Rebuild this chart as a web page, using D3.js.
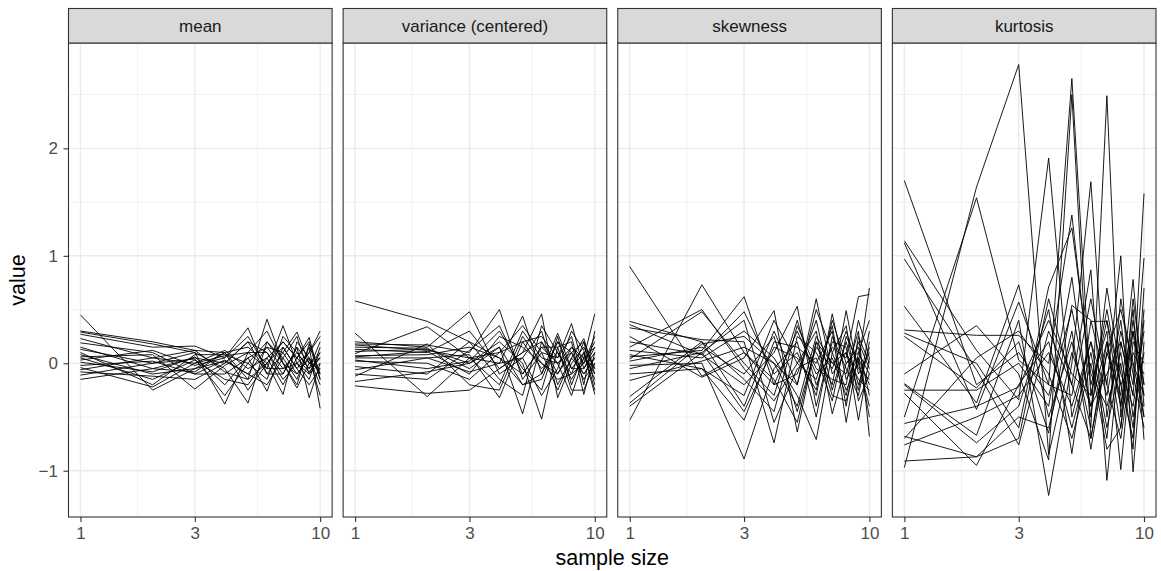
<!DOCTYPE html>
<html>
<head>
<meta charset="utf-8">
<script src="https://cdn.jsdelivr.net/npm/d3@7"></script>
<style>
  html, body { margin: 0; padding: 0; background: #fff; }
  svg text { font-family: "Liberation Sans", Arial, Helvetica, sans-serif; }
</style>
</head>
<body>
<svg id="chart" width="1161" height="571"></svg>
<script>
// ---- data ----
const sampleSizes = [1, 2, 3, 4, 5, 6, 7, 8, 9, 10];
const facetNames = ["mean", "variance (centered)", "skewness", "kurtosis"];
const xTickValues = [1, 3, 10];
const yTickValues = [-1, 0, 1, 2];

const meanSeries = [
  [0.45, -0.25, -0.05, 0.02, -0.10, 0.15, -0.05, 0.10, -0.05, 0.05],
  [0.30, 0.20, 0.12, 0.10, -0.15, 0.41, 0.00, -0.10, 0.05, -0.10],
  [0.29, 0.18, 0.10, -0.38, 0.10, -0.05, 0.35, 0.00, -0.10, 0.10],
  [0.27, 0.15, 0.16, 0.05, 0.33, -0.10, 0.10, 0.29, 0.00, -0.05],
  [0.23, 0.05, 0.00, 0.12, -0.05, 0.05, -0.20, 0.05, 0.24, -0.15],
  [0.19, 0.10, -0.10, -0.10, 0.05, -0.26, 0.15, -0.05, 0.10, 0.30],
  [0.15, -0.05, 0.05, 0.00, 0.20, 0.10, -0.10, 0.15, -0.32, 0.00],
  [0.13, 0.00, 0.10, -0.05, -0.37, 0.20, 0.05, -0.15, 0.15, -0.42],
  [0.10, -0.20, 0.08, 0.08, 0.00, -0.15, 0.25, 0.10, -0.05, 0.20],
  [0.08, -0.10, -0.05, 0.10, 0.15, 0.00, -0.29, 0.20, 0.05, -0.20],
  [0.06, 0.08, -0.24, -0.02, 0.10, 0.30, 0.00, -0.23, 0.00, 0.05],
  [0.05, -0.15, 0.03, -0.15, -0.20, 0.05, 0.20, 0.05, 0.20, -0.10],
  [0.03, 0.12, -0.02, 0.05, 0.25, -0.05, -0.05, 0.00, -0.15, 0.15],
  [0.01, -0.08, 0.06, -0.20, 0.05, 0.15, 0.10, -0.10, 0.05, -0.30],
  [-0.02, 0.02, -0.10, 0.03, -0.10, -0.20, 0.05, 0.25, -0.10, 0.00],
  [-0.04, -0.22, 0.00, 0.07, 0.10, 0.10, -0.15, 0.00, 0.10, 0.25],
  [-0.06, 0.05, 0.12, -0.08, -0.15, 0.00, 0.15, -0.05, -0.20, -0.05],
  [-0.08, -0.12, -0.15, 0.00, 0.20, -0.10, -0.10, 0.15, 0.00, 0.10],
  [-0.11, 0.00, 0.04, -0.30, 0.00, 0.20, 0.00, -0.20, 0.18, -0.15],
  [-0.15, -0.05, -0.08, 0.10, -0.25, 0.00, 0.20, 0.05, -0.08, 0.05]
];

const varianceSeries = [
  [0.58, 0.39, 0.20, 0.05, -0.10, 0.15, 0.00, 0.10, -0.10, 0.05],
  [0.28, -0.31, 0.05, 0.10, 0.20, -0.05, 0.10, -0.15, 0.05, 0.46],
  [0.20, 0.15, 0.48, -0.10, 0.05, 0.30, -0.20, 0.05, 0.23, -0.10],
  [0.18, 0.17, 0.10, 0.50, -0.15, 0.10, 0.05, 0.37, -0.05, 0.10],
  [0.17, 0.12, 0.05, 0.00, 0.44, -0.10, 0.28, -0.05, 0.10, -0.29],
  [0.15, 0.14, -0.05, 0.15, -0.47, 0.20, -0.10, 0.15, 0.00, 0.20],
  [0.13, 0.10, 0.30, -0.05, 0.10, 0.46, -0.32, 0.00, 0.15, -0.05],
  [0.11, 0.13, 0.00, 0.20, 0.00, -0.52, 0.15, 0.20, -0.29, 0.10],
  [0.09, 0.34, 0.05, -0.20, 0.30, 0.05, 0.00, -0.30, 0.05, 0.15],
  [0.07, 0.08, 0.15, 0.05, -0.20, -0.15, 0.20, 0.10, -0.15, 0.00],
  [0.06, 0.11, -0.10, 0.25, 0.15, 0.00, -0.15, -0.10, 0.20, -0.20],
  [0.05, 0.05, 0.08, -0.32, 0.20, 0.25, 0.05, 0.25, -0.20, 0.30],
  [0.03, -0.05, 0.02, 0.30, -0.05, -0.25, 0.25, -0.20, 0.10, -0.15],
  [0.02, 0.00, -0.15, 0.10, 0.35, 0.10, -0.25, 0.05, -0.10, 0.05],
  [-0.03, -0.10, 0.20, -0.15, -0.30, 0.35, 0.10, -0.10, 0.00, 0.25],
  [-0.06, 0.05, -0.08, 0.00, 0.05, -0.30, -0.05, 0.30, 0.12, -0.25],
  [-0.10, -0.15, 0.12, 0.35, -0.10, 0.15, 0.15, -0.25, -0.25, 0.00],
  [-0.12, 0.18, -0.20, -0.25, 0.25, 0.00, -0.10, 0.10, 0.20, -0.05],
  [-0.17, -0.08, 0.00, 0.15, -0.20, -0.10, 0.20, -0.05, -0.05, 0.15],
  [-0.21, -0.28, -0.25, -0.05, 0.10, 0.20, 0.00, 0.15, 0.05, -0.10]
];

const skewnessSeries = [
  [0.90, -0.12, 0.10, -0.20, 0.30, -0.10, 0.05, -0.30, 0.20, -0.05],
  [0.39, 0.20, -0.40, 0.30, -0.20, 0.60, -0.10, 0.10, -0.25, 0.30],
  [0.36, 0.08, 0.48, -0.10, 0.10, -0.30, 0.46, -0.15, 0.05, -0.20],
  [0.33, 0.22, 0.20, -0.74, 0.25, 0.10, -0.20, 0.49, -0.10, 0.10],
  [0.25, -0.13, 0.05, 0.49, -0.64, 0.20, 0.00, -0.10, 0.30, -0.68],
  [0.20, 0.08, -0.20, 0.10, 0.53, -0.40, 0.20, 0.15, -0.53, 0.05],
  [0.15, 0.50, -0.05, -0.35, 0.00, 0.30, -0.47, 0.00, 0.15, -0.30],
  [0.12, 0.05, 0.30, 0.05, -0.30, -0.71, 0.10, -0.25, 0.00, 0.70],
  [0.08, -0.05, -0.53, 0.20, 0.15, 0.00, 0.30, -0.55, 0.10, -0.10],
  [0.06, 0.12, 0.62, -0.20, -0.10, 0.40, -0.25, 0.20, -0.20, 0.15],
  [0.04, 0.48, 0.00, -0.30, 0.40, -0.20, 0.15, 0.05, 0.62, 0.64],
  [0.02, 0.15, -0.10, 0.25, -0.45, 0.15, -0.05, 0.30, -0.05, -0.15],
  [-0.02, 0.00, -0.89, -0.05, 0.20, -0.50, 0.25, -0.05, -0.30, 0.20],
  [-0.05, 0.10, 0.40, -0.55, -0.05, 0.05, -0.35, 0.25, 0.00, -0.40],
  [-0.10, -0.05, -0.30, 0.40, 0.00, -0.15, 0.35, -0.40, 0.25, 0.00],
  [-0.16, 0.02, 0.15, 0.00, -0.40, 0.25, 0.00, 0.10, -0.15, -0.25],
  [-0.31, 0.20, -0.15, -0.45, 0.35, -0.05, -0.15, -0.20, 0.40, 0.05],
  [-0.37, 0.18, 0.25, 0.00, -0.20, 0.50, 0.10, 0.35, -0.35, -0.10],
  [-0.40, 0.10, -0.45, 0.15, 0.05, -0.25, 0.40, 0.00, 0.10, 0.40],
  [-0.53, 0.73, 0.10, -0.15, -0.55, 0.20, -0.30, -0.35, 0.05, -0.50]
];

const kurtosisSeries = [
  [1.70, -0.20, 0.10, -0.30, 0.50, -0.40, 0.20, -0.60, 0.30, -0.20],
  [1.14, 0.12, -0.34, 1.91, -0.50, 0.20, -0.30, 0.40, -0.50, 0.10],
  [1.12, -0.43, 0.57, -0.20, 2.65, -0.30, 0.50, -0.20, 0.00, -0.50],
  [0.97, -0.06, -0.76, 0.30, -0.20, 0.87, -1.09, 0.20, -0.30, 0.98],
  [0.53, -0.37, 0.73, -0.50, 0.20, -0.60, 2.49, -0.50, 0.40, -0.30],
  [0.31, 0.26, 0.26, 0.00, 1.38, -0.20, 0.30, -0.99, 0.20, 0.00],
  [0.28, 0.00, -0.60, 0.71, 1.26, -0.10, -0.40, 0.10, -0.60, 0.40],
  [0.25, -0.23, 0.20, -0.65, 0.54, 0.40, -0.20, 1.00, -1.01, 0.20],
  [-0.10, 0.35, -0.10, -0.90, 2.50, -0.70, 0.10, -0.30, 0.78, -0.40],
  [-0.19, -0.67, 0.40, -1.23, 0.00, 1.69, -0.50, 0.30, -0.20, 1.58],
  [-0.20, -0.74, -0.40, 0.50, -0.84, 0.39, 0.39, -0.40, 0.50, -0.71],
  [-0.25, -0.25, 0.00, -0.40, 0.80, -0.50, 0.70, -0.10, -0.40, 0.30],
  [-0.28, -0.95, -0.20, 0.20, -0.60, 0.10, -0.70, 0.60, -0.10, -0.60],
  [-0.50, 1.54, 0.03, -0.20, -0.30, 0.60, -0.20, -0.70, 0.10, -0.10],
  [-0.56, -0.40, -0.22, 0.40, -0.10, -0.30, 0.40, -0.20, -0.70, 0.50],
  [-0.68, -0.87, -0.50, -0.60, 0.30, -0.80, 0.10, 0.50, 0.00, -0.30],
  [-0.70, 0.05, 0.30, -0.10, -0.70, 0.00, -0.80, -0.60, 0.60, -0.20],
  [-0.76, -0.50, -0.30, 0.10, -0.40, 0.20, -0.60, 0.00, -0.80, 0.70],
  [-0.91, -0.87, -0.70, 0.60, -0.20, -0.70, 0.20, -0.40, 0.30, -0.50],
  [-0.97, 1.64, 2.78, -0.85, 0.10, -0.40, -0.10, 0.20, -0.30, -0.40]
];

const facetSeries = [meanSeries, varianceSeries, skewnessSeries, kurtosisSeries];

// ---- layout ----
const svg = d3.select("#chart");
const plotLeft = 68.5, plotRight = 1156, panelGap = 11;
const stripTop = 8.5, panelTop = 43, panelBottom = 517;
const nP = facetNames.length;
const pw = (plotRight - plotLeft - panelGap * (nP - 1)) / nP;
const ph = panelBottom - panelTop;
const smallFont = "17px", titleFont = "21.5px";
const fontFam = '"Liberation Sans", Arial, sans-serif';

// scales
const logMin = Math.log10(d3.min(sampleSizes)), logMax = Math.log10(d3.max(sampleSizes));
const lpad = (logMax - logMin) * 0.05;
const x = d3.scaleLog().domain([Math.pow(10, logMin - lpad), Math.pow(10, logMax + lpad)]).range([0, pw]);

const allVals = facetSeries.flat(2);
const [vmin, vmax] = d3.extent(allVals);
const vpad = (vmax - vmin) * 0.05;
const y = d3.scaleLinear().domain([vmin - vpad, vmax + vpad]).range([ph, 0]);

// minor breaks (midpoints between major breaks, as ggplot does)
const xMinor = [];
for (let i = 0; i < xTickValues.length - 1; i++) {
  xMinor.push(Math.pow(10, (Math.log10(xTickValues[i]) + Math.log10(xTickValues[i + 1])) / 2));
}
const yMinor = [];
for (let v = yTickValues[0] - 0.5; v <= yTickValues[yTickValues.length - 1] + 0.5; v += 1) {
  if (v >= y.domain()[0] && v <= y.domain()[1]) yMinor.push(v);
}

const line = d3.line().x((d, i) => x(sampleSizes[i])).y(d => y(d));

facetNames.forEach((name, p) => {
  const px = plotLeft + p * (pw + panelGap);
  const g = svg.append("g").attr("transform", `translate(${px},${panelTop})`);

  g.append("rect").attr("width", pw).attr("height", ph).attr("fill", "#fff");

  // minor grid
  g.selectAll(".ymin").data(yMinor).join("line")
    .attr("x1", 0).attr("x2", pw).attr("y1", d => y(d)).attr("y2", d => y(d))
    .attr("stroke", "#EBEBEB").attr("stroke-width", 0.7);
  g.selectAll(".xmin").data(xMinor).join("line")
    .attr("y1", 0).attr("y2", ph).attr("x1", d => x(d)).attr("x2", d => x(d))
    .attr("stroke", "#EBEBEB").attr("stroke-width", 0.7);
  // major grid
  g.selectAll(".ymaj").data(yTickValues).join("line")
    .attr("x1", 0).attr("x2", pw).attr("y1", d => y(d)).attr("y2", d => y(d))
    .attr("stroke", "#EBEBEB").attr("stroke-width", 1.4);
  g.selectAll(".xmaj").data(xTickValues).join("line")
    .attr("y1", 0).attr("y2", ph).attr("x1", d => x(d)).attr("x2", d => x(d))
    .attr("stroke", "#EBEBEB").attr("stroke-width", 1.4);

  // series lines
  g.selectAll(".series").data(facetSeries[p]).join("path")
    .attr("d", line)
    .attr("fill", "none").attr("stroke", "#000").attr("stroke-width", 0.9)
    .attr("stroke-linejoin", "miter").attr("stroke-miterlimit", 10);

  // panel border
  g.append("rect").attr("width", pw).attr("height", ph)
    .attr("fill", "none").attr("stroke", "#333333").attr("stroke-width", 1.1);

  // strip
  const s = svg.append("g").attr("transform", `translate(${px},${stripTop})`);
  s.append("rect").attr("width", pw).attr("height", panelTop - stripTop)
    .attr("fill", "#D9D9D9").attr("stroke", "#333333").attr("stroke-width", 1.1);
  s.append("text").attr("x", pw / 2).attr("y", (panelTop - stripTop) / 2)
    .attr("dy", "0.35em").attr("text-anchor", "middle")
    .attr("fill", "#1A1A1A").style("font-size", smallFont).text(name);

  // x axis
  const xa = svg.append("g").attr("transform", `translate(${px},${panelBottom})`)
    .call(d3.axisBottom(x).tickValues(xTickValues).tickFormat(d3.format("d")).tickSize(5).tickPadding(4.5));
  xa.select(".domain").remove();
  xa.selectAll(".tick line").attr("stroke", "#333333").attr("stroke-width", 1.1);
  xa.selectAll(".tick text").attr("fill", "#4D4D4D").style("font-size", smallFont).style("font-family", fontFam);

  if (p === 0) {
    const ya = svg.append("g").attr("transform", `translate(${px},${panelTop})`)
      .call(d3.axisLeft(y).tickValues(yTickValues)
        .tickFormat(d => d < 0 ? "\u2212" + Math.abs(d) : String(d)).tickSize(5).tickPadding(5.5));
    ya.select(".domain").remove();
    ya.selectAll(".tick line").attr("stroke", "#333333").attr("stroke-width", 1.1);
    ya.selectAll(".tick text").attr("fill", "#4D4D4D").style("font-size", smallFont).style("font-family", fontFam);
  }
});

// axis titles
svg.append("text").attr("x", (plotLeft + plotRight) / 2).attr("y", 565)
  .attr("text-anchor", "middle").attr("fill", "#000").style("font-size", titleFont).text("sample size");
svg.append("text").attr("transform", `translate(25,${(panelTop + panelBottom) / 2}) rotate(-90)`)
  .attr("text-anchor", "middle").attr("fill", "#000").style("font-size", titleFont).text("value");
</script>
</body>
</html>
